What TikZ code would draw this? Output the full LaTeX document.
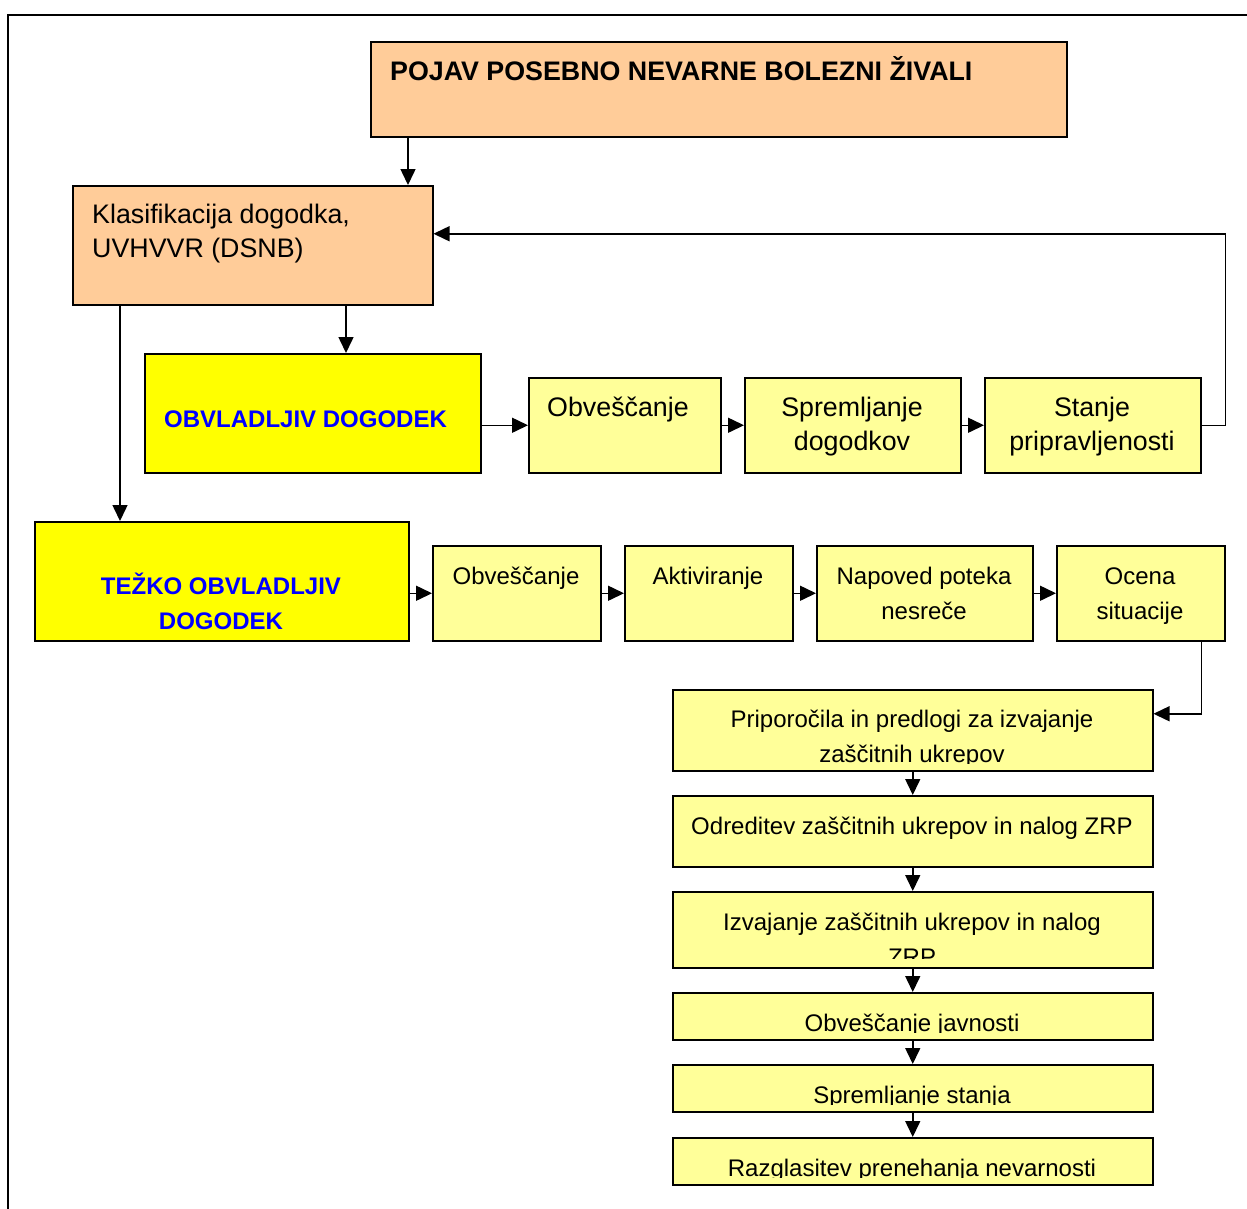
\documentclass[tikz,border=0pt]{standalone}
\usepackage{fontspec}
\setmainfont{Liberation Sans}
\usetikzlibrary{arrows.meta}

\definecolor{peach}{HTML}{FFCC99}
\definecolor{lightyellow}{HTML}{FFFF99}
\definecolor{eventyellow}{HTML}{FFFF00}
\definecolor{eventblue}{HTML}{0000FF}

\begin{document}
\begin{tikzpicture}[x=1pt, y=-1pt,
            box/.style = {draw, line width=1.5pt, anchor=north west, inner sep=0pt},
            peachbox/.style = {box, fill=peach},
            eventbox/.style = {box, fill=eventyellow},
            taskbox/.style = {box, fill=lightyellow},
            big/.style = {inner sep=0pt, font=\fontsize{26.8}{34}\selectfont},
            small/.style = {inner sep=0pt, font=\fontsize{24}{34.5}\selectfont},
            link/.style = {line width=1.5pt, -{Triangle[length=16pt, width=15pt]}}
            ]
            \useasboundingbox (0,0) rectangle (1247,1208);
            \clip (0,0) rectangle (1247,1208);
            \draw[line width=1.5pt] (8,15) rectangle (1270,1230);

            % top part
            \node[peachbox, minimum width=696pt, minimum height=95pt] (pojav) at (370,41) {};
            \node[big, anchor=base west] (pojav-t) at (390,80) {\bfseries POJAV POSEBNO NEVARNE BOLEZNI ŽIVALI};
            \node[peachbox, minimum width=360pt, minimum height=119pt] (klas) at (72,185) {};
            \node[big, anchor=base west, align=left] (klas-t) at (92,257) {Klasifikacija dogodka,\\UVHVVR (DSNB)};

            % obvladljiv dogodek
            \node[eventbox, minimum width=336pt, minimum height=119pt] (obv) at (144,353) {};
            \node[small, anchor=base west, text=eventblue] (obv-t) at (164,427) {\bfseries OBVLADLJIV DOGODEK};
            \node[taskbox, minimum width=192pt, minimum height=95pt] (obv1) at (528,377) {};
            \node[big, anchor=base] (obv1-t) at (618,416) {Obveščanje};
            \node[taskbox, minimum width=216pt, minimum height=95pt] (sprem) at (744,377) {};
            \node[big, anchor=base, align=center] (sprem-t) at (852,450) {Spremljanje\\dogodkov};
            \node[taskbox, minimum width=216pt, minimum height=95pt] (stanje) at (984,377) {};
            \node[big, anchor=base, align=center] (stanje-t) at (1092,450) {Stanje\\pripravljenosti};

            % tezko obvladljiv dogodek
            \node[eventbox, minimum width=374pt, minimum height=119pt] (tezko) at (34,521) {};
            \node[small, anchor=base, align=center, text=eventblue, font=\fontsize{24}{34.5}\selectfont\bfseries] (tezko-t) at (221,629) {TEŽKO OBVLADLJIV\\DOGODEK};
            \node[taskbox, minimum width=168pt, minimum height=95pt] (obv2) at (432,545) {};
            \node[small, anchor=base] (obv2-t) at (516,584) {Obveščanje};
            \node[taskbox, minimum width=168pt, minimum height=95pt] (akt) at (624,545) {};
            \node[small, anchor=base] (akt-t) at (708,584) {Aktiviranje};
            \node[taskbox, minimum width=216pt, minimum height=95pt] (napo) at (816,545) {};
            \node[small, anchor=base, align=center] (napo-t) at (924,619) {Napoved poteka\\nesreče};
            \node[taskbox, minimum width=168pt, minimum height=95pt] (ocena) at (1056,545) {};
            \node[small, anchor=base, align=center] (ocena-t) at (1140,619) {Ocena\\situacije};

            % ukrepi
            \node[taskbox, minimum width=480pt, minimum height=81pt] (prip) at (672,689) {};
            \node[taskbox, minimum width=480pt, minimum height=71pt] (odre) at (672,795) {};
            \node[taskbox, minimum width=480pt, minimum height=76pt] (izva) at (672,891) {};
            \node[taskbox, minimum width=480pt, minimum height=47pt] (javn) at (672,992) {};
            \node[taskbox, minimum width=480pt, minimum height=47pt] (stsp) at (672,1064) {};
            \node[taskbox, minimum width=480pt, minimum height=47pt] (razg) at (672,1137) {};
            \begin{scope}
              \clip (prip.north west) rectangle ([yshift=8.5pt]prip.south east);
              \node[small, anchor=base, align=center] (prip-t) at (912,762) {Priporočila in predlogi za izvajanje\\zaščitnih ukrepov};
            \end{scope}
            \node[small, anchor=base] (odre-t) at (912,834) {Odreditev zaščitnih ukrepov in nalog ZRP};
            \begin{scope}
              \clip (izva.north west) rectangle ([yshift=10pt]izva.south east);
              \node[small, anchor=base, align=center] (izva-t) at (912,965) {Izvajanje zaščitnih ukrepov in nalog\\ZRP};
            \end{scope}
            \begin{scope}
              \clip (javn.north west) rectangle ([yshift=8.5pt]javn.south east);
              \node[small, anchor=base] (javn-t) at (912,1031) {Obveščanje javnosti};
            \end{scope}
            \begin{scope}
              \clip (stsp.north west) rectangle ([yshift=8.5pt]stsp.south east);
              \node[small, anchor=base] (stsp-t) at (912,1103) {Spremljanje stanja};
            \end{scope}
            \begin{scope}
              \clip (razg.north west) rectangle ([yshift=8.5pt]razg.south east);
              \node[small, anchor=base] (razg-t) at (912,1176) {Razglasitev prenehanja nevarnosti};
            \end{scope}

            % connectors
            \draw[link] ([xshift=38pt]pojav.south west) -- ([xshift=38pt]pojav.south west |- klas.north);
            \draw[link] ([xshift=274pt]klas.south west) -- ([xshift=274pt]klas.south west |- obv.north);
            \draw[link] ([xshift=48pt]klas.south west) -- ([xshift=48pt]klas.south west |- tezko.north);
            \draw[link] (obv.east |- obv1.west) -- (obv1.west);
            \draw[link] (obv1.east) -- (sprem.west);
            \draw[link] (sprem.east) -- (stanje.west);
            \draw[link] (stanje.east) -- ++(24,0) |- ([yshift=11.5pt]klas.east);
            \draw[link] (tezko.east |- obv2.west) -- (obv2.west);
            \draw[link] (obv2.east) -- (akt.west);
            \draw[link] (akt.east) -- (napo.west);
            \draw[link] (napo.east) -- (ocena.west);
            \draw[link] ([xshift=-24pt]ocena.south east) |- ([yshift=16.5pt]prip.east);
            \draw[link] (prip.south) -- (odre.north);
            \draw[link] (odre.south) -- (izva.north);
            \draw[link] (izva.south) -- (javn.north);
            \draw[link] (javn.south) -- (stsp.north);
            \draw[link] (stsp.south) -- (razg.north);
          \end{tikzpicture}
\end{document}
